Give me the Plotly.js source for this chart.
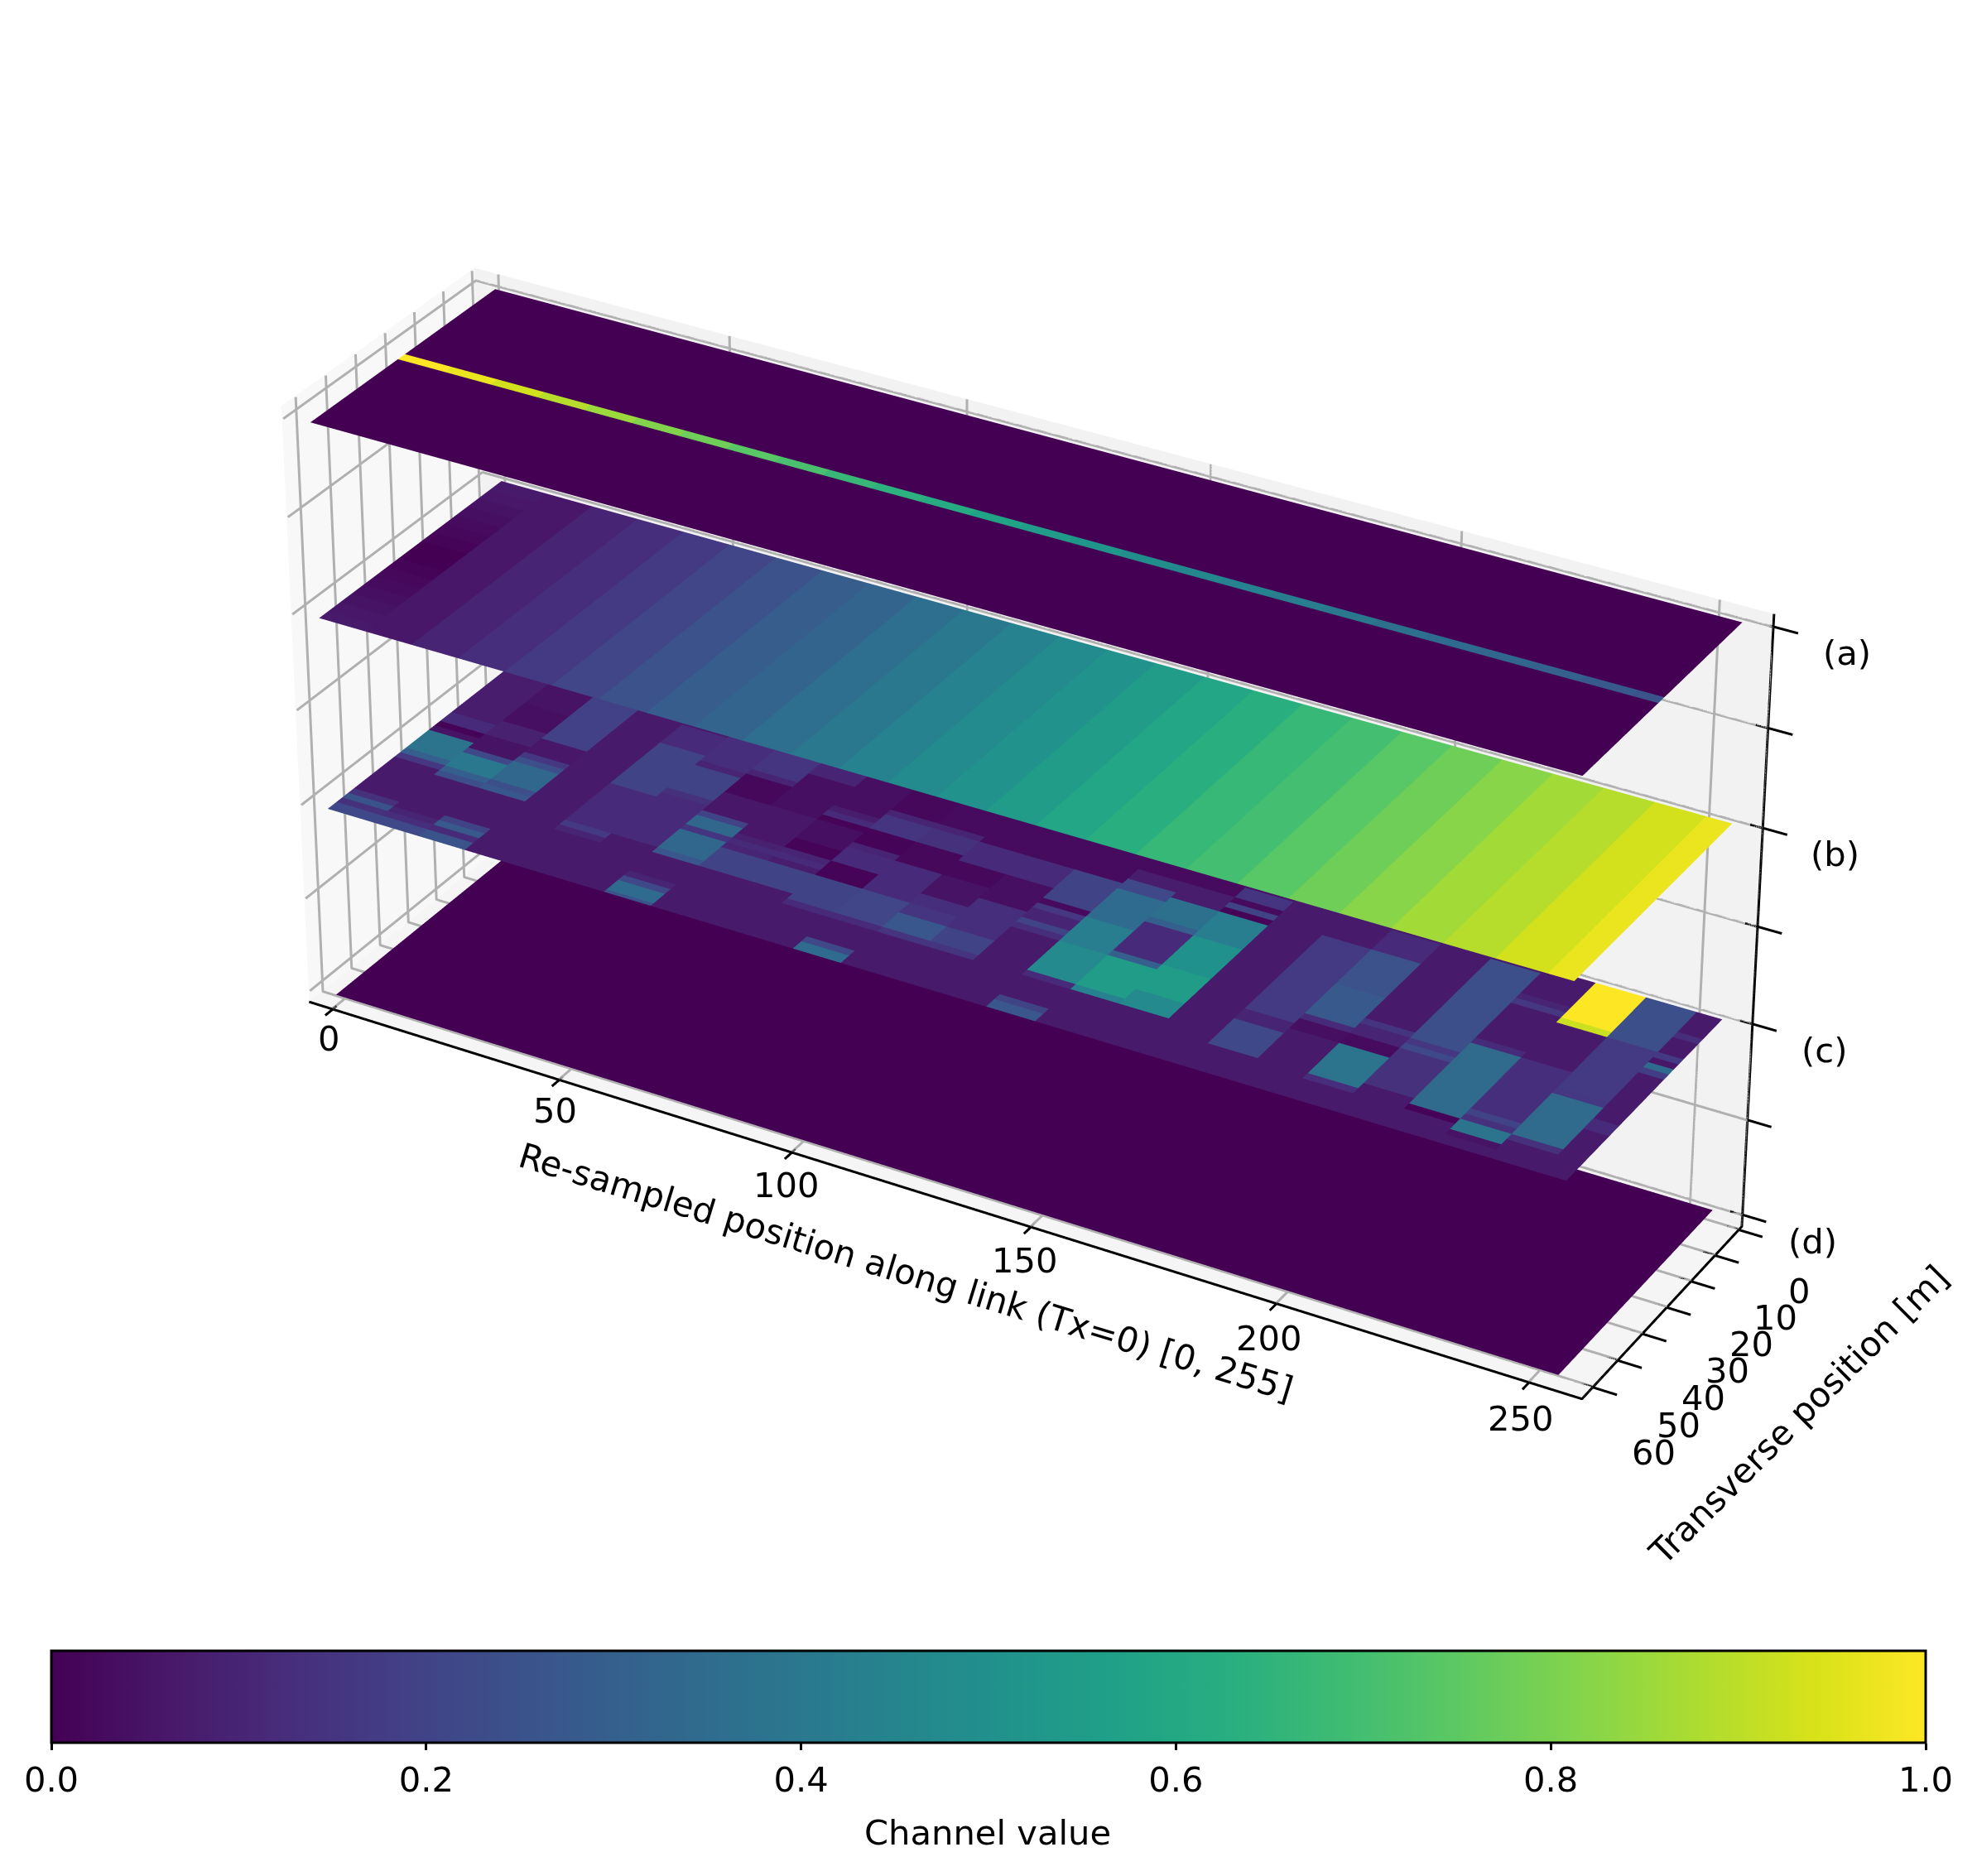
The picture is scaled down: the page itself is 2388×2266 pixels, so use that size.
<!DOCTYPE html>
<html><head><meta charset="utf-8">
<script src="https://cdn.plot.ly/plotly-3.0.0.min.js"></script>
<style>html,body{margin:0;padding:0;background:#fff;overflow:hidden}#chart{width:2388px;height:2266px}</style>
</head><body><div id="chart"></div>
<script>
// ---------- data ----------
const xEdges = [0,10,20,30,40,50,60,70,80,90,100,110,120,130,140,150,160,170,180,190,200,210,220,230,240,250,255];
const yEdges = [0,2,4,6,8,10,12,14,16,18,20,22,24,26,28,30,32,34,36,38,40,42,44,46,48,50,52,54,56,58,60,62,63];
const layerLevels = {a:3, b:2, c:1, d:0};
const xTicks = [0,50,100,150,200,250];
const yTicks = [0,10,20,30,40,50,60];
const zTicks = [0,0.5,1,1.5,2,2.5,3];
const zTickLabels = {0:'(d)',1:'(c)',2:'(b)',3:'(a)'};
// the drawn box (limits of the reference axes)
const xLo=-5.3, xHi=260.3, yFront=64.3, yBack=-1.3, zLo=-0.0625, zHi=3.0625;
// layer (a): a single lit band across y, value per x cell
const layerAyEdges = [0,31.2,33.6,63];
const layerAValues = [1,0.97,0.93,0.89,0.85,0.81,0.78,0.74,0.71,0.67,0.64,0.61,0.58,0.55,0.52,0.49,0.46,0.44,0.42,0.40,0.37,0.35,0.33,0.31,0.28,0.26];
// layer (b): value per x cell, and the first x cell per y row (darkest at the transmitter)
const layerBValues = [0.02,0.06,0.10,0.13,0.17,0.21,0.25,0.29,0.32,0.36,0.40,0.44,0.48,0.51,0.55,0.59,0.63,0.67,0.70,0.74,0.78,0.82,0.86,0.89,0.93,0.97];
const layerBFirstCell = [.07,.07,.06,.06,.05,.05,.04,.04,.03,.03,.02,.02,.01,.01,0,0,0,0,.01,.01,.02,.02,.03,.03,.04,.04,.05,.05,.06,.06,.07,.07];
// layer (c): background value, then for each x cell the runs [firstRow,lastRow,value]
const layerCBase = 0.07;
const layerCColumns = [
 [[0,9,.08],[10,11,.12],[12,12,.01],[13,13,.05],[14,17,.38],[18,18,.3],[19,19,.16],[27,27,.14],[28,28,.26],[29,29,.14],[30,31,.22]],
 [[0,4,.05],[5,8,.04],[9,11,.09],[12,14,.05],[15,15,.22],[16,18,.4],[19,19,.3],[20,20,.24],[28,28,.1],[29,29,.13],[30,31,.22]],
 [[0,9,.19],[10,12,.06],[13,13,.16],[14,14,.24],[15,18,.33],[19,19,.24],[20,20,.27],[27,27,.2],[28,28,.28],[29,29,.12],[30,31,.26]],
 [],
 [[1,4,.12],[5,13,.2],[14,21,.12],[22,22,.17],[23,23,.1]],
 [[0,5,.13],[6,6,.1],[7,11,.2],[12,12,.14],[13,21,.12]],
 [[0,4,.15],[5,5,.1],[6,9,.02],[10,13,.06],[14,14,.2],[15,16,.33],[17,17,.15],[18,21,.33],[22,22,.27],[27,27,.1],[28,28,.22],[29,30,.35],[31,31,.26]],
 [[0,2,.1],[3,9,.04],[10,15,.06],[16,16,.09],[17,17,.12],[18,18,.1],[19,22,.2]],
 [[0,6,.04],[7,7,.08],[8,8,.12],[9,9,.01],[10,13,.04],[14,15,.01],[16,16,.1],[17,17,.12],[18,18,.08],[19,22,.2]],
 [[0,4,.02],[5,5,.1],[6,8,.15],[9,11,.01],[12,12,.1],[13,15,.12],[16,18,.01],[19,23,.2],[24,24,.12]],
 [[0,4,.03],[5,5,.1],[6,8,.14],[9,12,.02],[13,18,.12],[19,23,.21],[24,24,.12],[29,29,.22],[30,31,.35]],
 [[0,5,.03],[6,9,.12],[10,12,.02],[13,16,.05],[17,18,.13],[19,20,.15],[21,23,.27],[24,24,.15]],
 [[0,5,.03],[6,9,.12],[10,14,.04],[15,20,.13],[21,23,.2],[24,24,.15]],
 [[0,5,.03],[6,11,.2],[12,12,.03],[13,13,.16],[14,15,.1],[16,16,.2],[17,17,.13]],
 [[0,2,.03],[3,4,.08],[5,6,.22],[7,12,.35],[13,17,.42],[18,23,.47],[24,24,.12],[29,29,.2],[30,31,.27]],
 [[0,2,.03],[3,5,.08],[6,9,.37],[10,10,.3],[11,16,.12],[17,17,.3],[18,23,.55],[24,24,.44]],
 [[0,0,.05],[1,2,.15],[3,3,.03],[4,4,.2],[5,5,.01],[6,10,.42],[11,16,.5],[17,21,.55],[22,24,.47]],
 [],
 [[5,19,.17],[20,21,.1],[22,26,.22]],
 [[1,4,.12],[5,11,.25],[12,17,.28],[18,18,.12],[19,20,.04]],
 [[16,16,.15],[17,18,.1],[19,20,.03],[21,26,.38],[27,27,.13]],
 [[1,16,.24],[17,17,.16],[18,18,.22],[19,25,.14]],
 [[5,5,.1],[6,6,.16],[14,14,.12],[15,26,.34],[27,27,.01]],
 [[0,6,1],[7,7,.92],[15,24,.13],[25,25,.2],[26,26,.14],[27,28,.38],[29,29,.05]],
 [[0,7,.24],[8,17,.17],[18,18,.16],[19,26,.34],[27,27,.14]],
 [[4,4,.13],[8,8,.17],[9,9,.06],[10,10,.35],[11,11,.18],[21,22,.12]]
];
const colorbarTicks = [0,0.2,0.4,0.6,0.8,1];

// ---------- matrices ----------
const nCols = xEdges.length-1, nRows = yEdges.length-1;
function emptyMatrix(v){return Array.from({length:nRows},()=>Array(nCols).fill(v));}
const matD = emptyMatrix(0);
const matA = [Array(nCols).fill(0),layerAValues,Array(nCols).fill(0)];
const matB = emptyMatrix(0); matB.forEach((r,i)=>layerBValues.forEach((v,c)=>{r[c]=c===0?layerBFirstCell[i]:v;}));
const matC = emptyMatrix(layerCBase);
layerCColumns.forEach((runs,c)=>runs.forEach(([r0,r1,v])=>{for(let r=r0;r<=r1;r++)matC[r][c]=v;}));

const flatLight={ambient:1,diffuse:0,specular:0,roughness:1,fresnel:0};
// flat-coloured cells: a mesh with one intensity per triangle
function layerMesh(mat,rowEdges,level,withBar){
  const X=[],Y=[],Z=[],I=[],J=[],K=[],V=[];
  const W=nCols+1, R=rowEdges.length-1;
  for(let r=0;r<=R;r++)for(let c=0;c<=nCols;c++){X.push(xEdges[c]);Y.push(rowEdges[r]);Z.push(level);}
  for(let r=0;r<R;r++)for(let c=0;c<nCols;c++){
    const p=r*W+c;
    I.push(p,p);J.push(p+1,p+W+1);K.push(p+W+1,p+W);V.push(mat[r][c],mat[r][c]);
  }
  const t={type:'mesh3d',x:X,y:Y,z:Z,i:I,j:J,k:K,intensity:V,intensitymode:'cell',cmin:0,cmax:1,colorscale:'Viridis',
    showscale:!!withBar,hoverinfo:'skip',flatshading:true,lighting:flatLight};
  if(withBar) t.colorbar={orientation:'h',x:0.5,xanchor:'center',y:(2266-1993.5)/2266,yanchor:'top',
    len:2264/2388,lenmode:'fraction',thickness:111,thicknessmode:'pixels',xpad:0,ypad:0,
    outlinecolor:'#000',outlinewidth:3,ticks:'outside',ticklen:8,tickwidth:3,tickcolor:'#000',
    tickvals:colorbarTicks,ticktext:colorbarTicks.map(v=>v.toFixed(1)),
    tickfont:{family:'DejaVu Sans',size:41.67,color:'#000'}};
  return t;
}
function pane(xs,ys,zs,color){
  return {type:'mesh3d',x:xs,y:ys,z:zs,i:[0,0],j:[1,2],k:[2,3],color,hoverinfo:'skip',flatshading:true,lighting:flatLight,showscale:false};
}
const panes=[
  pane([xLo,xLo,xLo,xLo],[yBack,yFront,yFront,yBack],[zLo,zLo,zHi,zHi],'#f8f8f8'),
  pane([xLo,xHi,xHi,xLo],[yBack,yBack,yBack,yBack],[zLo,zLo,zHi,zHi],'#f2f2f2'),
  pane([xLo,xHi,xHi,xLo],[yBack,yBack,yFront,yFront],[zLo,zLo,zLo,zLo],'#f5f5f5')
];

// ---------- grid, axis lines and tick marks through the scene scales ----------
function lineTrace(color,width){
  const o={x:[],y:[],z:[]};
  o.add=pts=>{pts.forEach(p=>{o.x.push(p[0]);o.y.push(p[1]);o.z.push(p[2]);});o.x.push(null);o.y.push(null);o.z.push(null);};
  o.trace=()=>({type:'scatter3d',mode:'lines',x:o.x,y:o.y,z:o.z,line:{color,width},hoverinfo:'skip',showlegend:false,connectgaps:false});
  return o;
}
const gridL=lineTrace('#b0b0b0',6), axisL=lineTrace('#000',6);
const gx=xLo+0.3, gy=yBack+0.08, gz=zLo+0.004;
xTicks.forEach(v=>gridL.add([[v,yFront,gz],[v,gy,gz],[v,gy,zHi]]));
yTicks.forEach(v=>gridL.add([[xHi,v,gz],[gx,v,gz],[gx,v,zHi]]));
zTicks.forEach(v=>gridL.add([[gx,yFront,v],[gx,gy,v],[xHi,gy,v]]));
axisL.add([[xLo,yFront,zLo],[xHi,yFront,zLo],[xHi,yBack,zLo],[xHi,yBack,zHi]]);
xTicks.forEach(v=>axisL.add([[v,yFront-1.3,zLo],[v,yFront+2.6,zLo]]));
yTicks.forEach(v=>axisL.add([[xHi-2.4,v,zLo],[xHi+4.7,v,zLo]]));
zTicks.forEach(v=>axisL.add([[xHi-2.4,yBack,v],[xHi+4.7,yBack,v]]));

// ---------- labels anchored in data coordinates ----------
const labelFont={family:'DejaVu Sans',size:41.67,color:'#000'};
const ann=[];
function lab(x,y,z,text,angle,yshift){ann.push({x,y,z,text:String(text),showarrow:false,xanchor:'center',yanchor:'middle',textangle:angle||0,yshift:yshift||0,font:labelFont});}
xTicks.forEach(v=>lab(v*0.9911+5.15,yFront+9.1,zLo,v,0,-0.03*v-1));
yTicks.forEach(v=>lab(xHi+13+0.028*v,1.3+1.07*v,zLo-0.205+0.0011*v,v));
Object.keys(zTickLabels).forEach(k=>lab(xHi+14,yBack,+k-0.03,zTickLabels[k]));
lab(138.3,yFront+25,zLo,'Re-sampled position along link (Tx=0) [0, 255]',17,2);
lab(xHi+27.3,32,zLo-0.316,'Transverse position [m]',-45);

function axis(range){return {range,showticklabels:false,ticks:'',title:{text:''},showgrid:false,showbackground:false,showline:false,zeroline:false,showspikes:false,tickvals:[]};}
const layout={width:2388,height:2266,margin:{l:0,r:0,t:0,b:0,autoexpand:false},paper_bgcolor:'#fff',showlegend:false,
  annotations:[{xref:'paper',yref:'paper',x:0.4996,y:0.0232,text:'Channel value',showarrow:false,xanchor:'center',yanchor:'middle',font:labelFont}],
  scene:{domain:{x:[0,1],y:[0,1]},aspectmode:'manual',aspectratio:{x:2.6471,y:0.78018,z:1.2215},
    camera:{eye:{x:5.3559,y:-9.3912,z:6.3579},center:{x:-0.04324,y:-0.02809,z:-0.11846},up:{x:0,y:0,z:1},projection:{type:'perspective'}},
    xaxis:axis([-30,300]),yaxis:axis([90,-10]),zaxis:axis([-0.5,3.3]),
    annotations:ann}};
const traces=[layerMesh(matD,yEdges,layerLevels.d,true),layerMesh(matC,yEdges,layerLevels.c),layerMesh(matB,yEdges,layerLevels.b),layerMesh(matA,layerAyEdges,layerLevels.a),...panes,gridL.trace(),axisL.trace()];
Plotly.newPlot('chart',traces,layout,{displayModeBar:false}).then(gd=>{
  const s=gd._fullLayout.scene._scene;
  if(s&&s.glplot){s.glplot.fovy=0.2134;s.glplot.redraw&&s.glplot.redraw();}
});
</script></body></html>
